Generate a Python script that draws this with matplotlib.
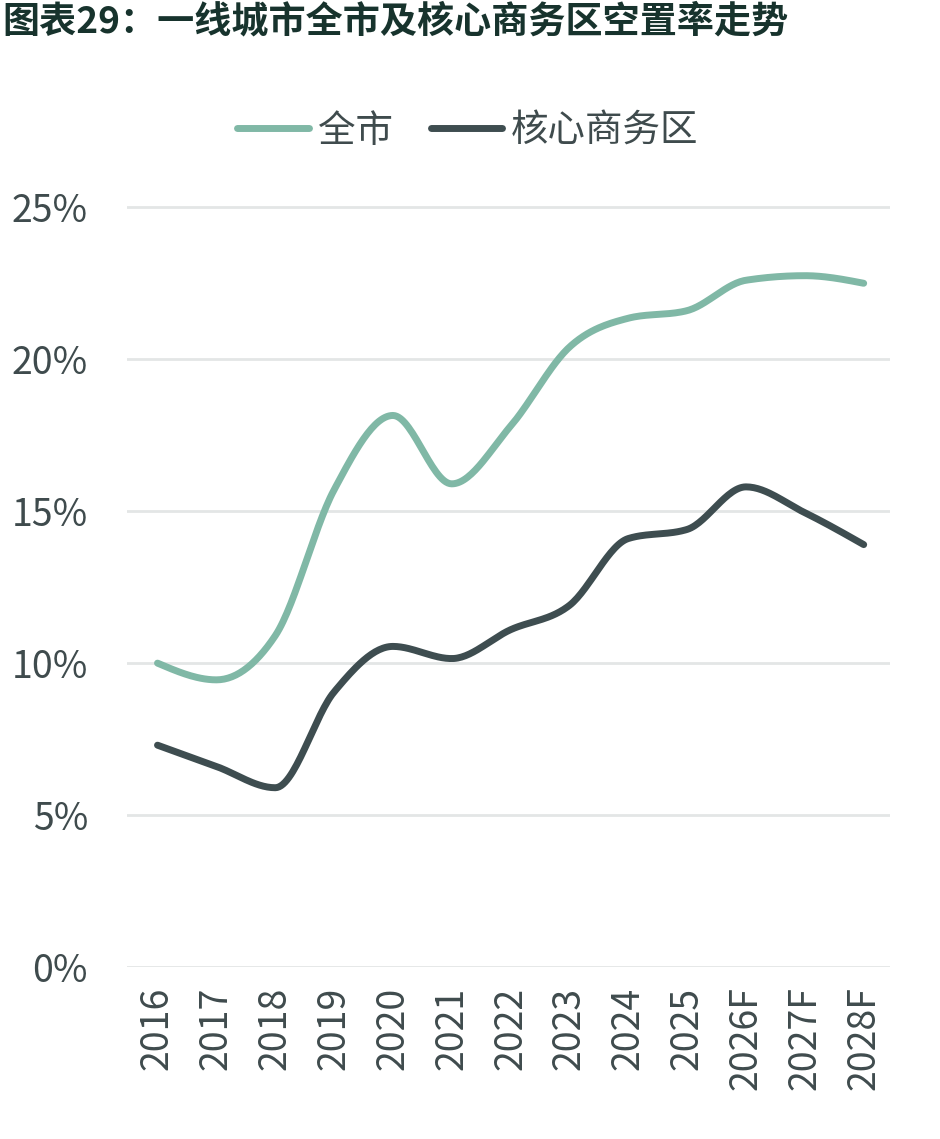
#!/usr/bin/env python3
"""Vacancy rate trend: whole city vs core CBD, tier-1 cities."""
import matplotlib
matplotlib.use("Agg")
import matplotlib.pyplot as plt
import numpy as np

plt.rcParams["font.family"] = ["Noto Sans CJK SC", "DejaVu Sans"]

years = ["2016", "2017", "2018", "2019", "2020", "2021", "2022",
         "2023", "2024", "2025", "2026F", "2027F", "2028F"]
whole_city = [10.0, 9.45, 10.9, 15.7, 18.15, 15.9, 17.8,
              20.4, 21.35, 21.6, 22.6, 22.75, 22.5]
core_cbd = [7.3, 6.6, 5.9, 9.05, 10.55, 10.15, 11.1,
            11.9, 14.1, 14.4, 15.8, 14.95, 13.9]

GREEN = "#80b8a6"
DARK = "#3e4d50"
TEXT = "#3f4b4d"
GRID = "#e3e6e6"


def monotone(x, y, n=30):
    # Fritsch-Carlson monotone cubic, like d3 curveMonotoneX
    x = np.asarray(x, float)
    y = np.asarray(y, float)
    h = np.diff(x)
    d = np.diff(y) / h
    m = np.zeros_like(y)
    for i in range(1, len(y) - 1):
        if d[i - 1] * d[i] <= 0:
            m[i] = 0
        else:
            m[i] = (np.sign(d[i - 1]) + np.sign(d[i])) * min(
                abs(d[i - 1]), abs(d[i]), 0.5 * abs((h[i - 1] * d[i] + h[i] * d[i - 1]) / (h[i - 1] + h[i])))
    m[0] = (3 * d[0] - m[1]) / 2
    m[-1] = (3 * d[-1] - m[-2]) / 2
    xs, ys = [], []
    for i in range(len(h)):
        t = np.linspace(0, 1, n, endpoint=(i == len(h) - 1))
        h00 = 2 * t**3 - 3 * t**2 + 1
        h10 = t**3 - 2 * t**2 + t
        h01 = -2 * t**3 + 3 * t**2
        h11 = t**3 - t**2
        xs.append(x[i] + t * h[i])
        ys.append(h00 * y[i] + h10 * h[i] * m[i] + h01 * y[i + 1] + h11 * h[i] * m[i + 1])
    return np.concatenate(xs), np.concatenate(ys)


fig = plt.figure(figsize=(9.4, 11.39), dpi=100)
ax = fig.add_axes([0.135, 0.151, 0.812, 0.675])

pos = np.arange(len(years))
for vals, col, lab in [(whole_city, GREEN, "全市"), (core_cbd, DARK, "核心商务区")]:
    sx, sy = monotone(pos, vals)
    ax.plot(sx, sy, color=col, lw=5, solid_capstyle="round", label=lab)

ax.set_ylim(0, 25.3)
ax.set_xlim(-0.52, len(years) - 0.55)
ax.set_yticks([0, 5, 10, 15, 20, 25])
ax.set_yticklabels([f"{v}%" for v in [0, 5, 10, 15, 20, 25]])
ax.set_xticks(pos)
ax.set_xticklabels(years, rotation=90)
ax.yaxis.grid(True, color=GRID, lw=2)
ax.set_axisbelow(True)
ax.tick_params(length=0, labelsize=27, colors=TEXT)
ax.tick_params(axis="y", pad=28)
ax.tick_params(axis="x", pad=14)
for s in ax.spines.values():
    s.set_visible(False)

ax.legend(loc="lower center", bbox_to_anchor=(0.447, 1.018), ncol=2, frameon=False,
          fontsize=27, labelcolor=TEXT, handlelength=1.9, handletextpad=0.25, columnspacing=1.0)

fig.text(0.003, 0.997, "图表29：一线城市全市及核心商务区空置率走势", fontsize=26.7,
         fontweight="bold", color="#17332d", va="top", ha="left")

fig.savefig("out.png", dpi=100)
